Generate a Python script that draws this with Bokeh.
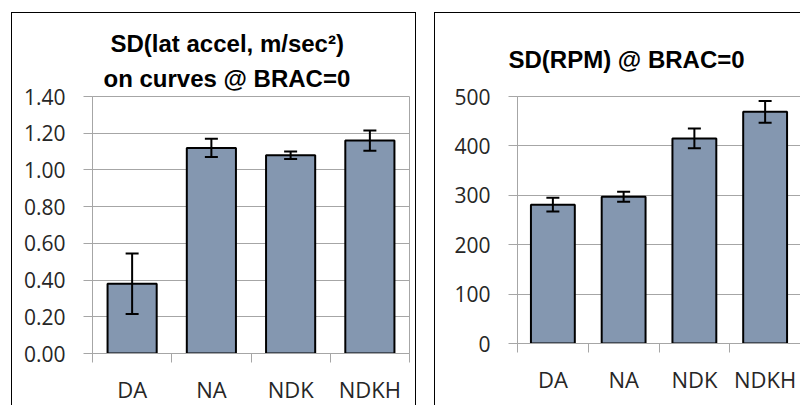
from bokeh.plotting import figure
from bokeh.models import (ColumnDataSource, Range1d, LinearAxis, Title,
                          FixedTicker, Whisker, TeeHead, PrintfTickFormatter)
from bokeh.layouts import row
from bokeh.embed import file_html
from bokeh.resources import INLINE

categories = ["DA", "NA", "NDK", "NDKH"]

lat_sd = [0.38, 1.12, 1.08, 1.16]
lat_err = [0.165, 0.05, 0.02, 0.055]
lat_ticks = [0.0, 0.2, 0.4, 0.6, 0.8, 1.0, 1.2, 1.4]

rpm_sd = [281, 297, 415, 469]
rpm_err = [14, 10, 20, 22]
rpm_ticks = [0, 100, 200, 300, 400, 500]

title_left = ["SD(lat accel, m/sec\u00b2)", "on curves  @ BRAC=0"]
title_right = ["SD(RPM) @ BRAC=0"]

BAR = "#8497B0"
GRID = "#A6A6A6"
TXT = "#262626"
TICK_FONT = "Open Sans"


def panel(vals, errs, yticks, fmt, titles, offsets, standoffs, width, height,
          fw, fh, bl, bt, margin, styles):
    n = len(categories)
    centers = [i + 0.5 for i in range(n)]
    src = ColumnDataSource(dict(
        x=centers, val=vals,
        upper=[v + e for v, e in zip(vals, errs)],
        lower=[v - e for v, e in zip(vals, errs)],
    ))
    p = figure(x_range=Range1d(0, n), y_range=Range1d(yticks[0], yticks[-1]),
               width=width, height=height, frame_width=fw, frame_height=fh,
               min_border_left=bl, min_border_top=bt,
               min_border_right=width - bl - fw, min_border_bottom=height - bt - fh,
               output_backend="svg", toolbar_location=None, x_axis_location=None,
               margin=margin, styles=styles)
    p.outline_line_color = GRID
    p.outline_line_width = 1
    p.background_fill_color = "white"
    p.border_fill_color = "white"
    p.xgrid.visible = False
    p.ygrid.ticker = FixedTicker(ticks=yticks)
    p.ygrid.grid_line_color = GRID
    p.ygrid.grid_line_width = 1

    ya = p.yaxis[0]
    ya.ticker = FixedTicker(ticks=yticks)
    ya.formatter = PrintfTickFormatter(format=fmt)
    ya.axis_line_color = GRID
    ya.major_tick_line_color = GRID
    ya.major_tick_out = 9
    ya.major_tick_in = 0
    ya.minor_tick_line_color = None
    ya.major_label_text_font = TICK_FONT
    ya.major_label_text_font_size = "21px"
    ya.major_label_text_color = TXT
    ya.major_label_standoff = 18

    # category labels at bar centres, Excel-style ticks on the category boundaries
    xa = LinearAxis(ticker=FixedTicker(ticks=centers, minor_ticks=list(range(n + 1))),
                    major_label_overrides={c: lab for c, lab in zip(centers, categories)},
                    axis_line_color=GRID, major_tick_line_color=None,
                    minor_tick_line_color=GRID, minor_tick_out=9, minor_tick_in=0,
                    major_tick_out=0, major_tick_in=0,
                    major_label_text_font=TICK_FONT, major_label_text_font_size="22px",
                    major_label_text_color=TXT, major_label_standoff=11)
    p.add_layout(xa, "below")

    p.vbar(x="x", top="val", width=0.62, source=src, fill_color=BAR,
           line_color="black", line_width=2)
    w = Whisker(base="x", upper="upper", lower="lower", source=src,
                line_color="black", line_width=2, level="overlay",
                upper_head=TeeHead(size=13, line_width=2, line_color="black"),
                lower_head=TeeHead(size=13, line_width=2, line_color="black"))
    p.add_layout(w)

    # title lines, nearest the plot area first
    for t, off, so in reversed(list(zip(titles, offsets, standoffs))):
        p.add_layout(Title(text=t, align="left", offset=off, standoff=so,
                           text_font="Liberation Sans", text_font_style="bold",
                           text_font_size="24px", text_color="black"), "above")
    return p


p1 = panel(lat_sd, lat_err, lat_ticks, "%.2f", title_left, [18, 11], [3, 9],
           403, 392, 315, 256, 80, 83, (12, 0, 0, 11),
           {"border-top": "1px solid black", "border-left": "1px solid black",
            "border-right": "1px solid black"})
p2 = panel(rpm_sd, rpm_err, rpm_ticks, "%d", title_right, [-9], [48],
           365, 392, 282, 246, 82, 83, (12, 0, 0, 18),
           {"border-top": "1px solid black", "border-left": "1px solid black"})

layout = row(p1, p2, spacing=0)
open("out.html", "w").write(file_html(layout, INLINE))
